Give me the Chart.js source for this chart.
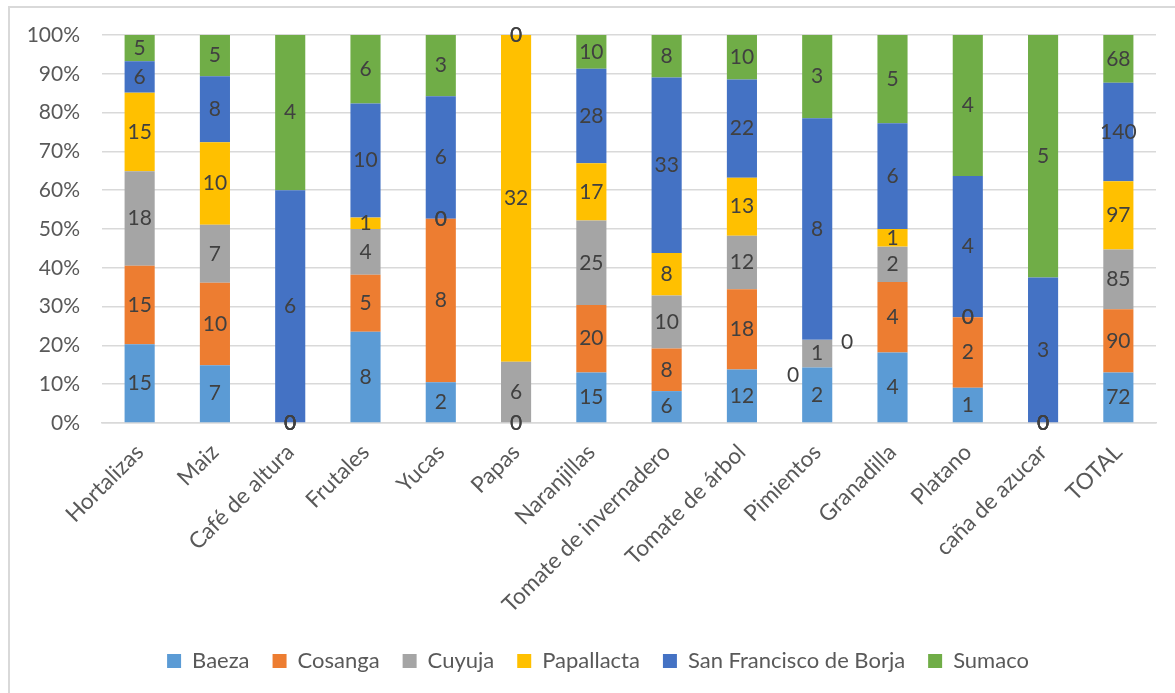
<!DOCTYPE html>
<html>
<head>
<meta charset="utf-8">
<script src="https://cdn.jsdelivr.net/npm/chart.js@4.4.1/dist/chart.umd.min.js"></script>
<style>
  html, body { margin: 0; padding: 0; background: #ffffff; }
  #wrap { position: relative; width: 1175px; height: 693px; overflow: hidden; }
  #frame { position: absolute; left: 8px; top: 6px; width: 1200px; height: 720px;
           border-left: 2px solid #d9d9d9; border-top: 2px solid #d9d9d9; }
  canvas { position: absolute; left: 0; top: 0; }
</style>
</head>
<body>
<div id="wrap">
  <div id="frame"></div>
  <canvas id="c" width="1175" height="693"></canvas>
</div>
<script>
const categories = ["Hortalizas", "Maiz", "Café de altura", "Frutales", "Yucas", "Papas",
  "Naranjillas", "Tomate de invernadero", "Tomate de árbol", "Pimientos", "Granadilla",
  "Platano", "caña de azucar", "TOTAL"];
const seriesNames = ["Baeza", "Cosanga", "Cuyuja", "Papallacta", "San Francisco de Borja", "Sumaco"];
const baeza        = [15, 7, 0, 8, 2, 0, 15, 6, 12, 2, 4, 1, 0, 72];
const cosanga      = [15, 10, 0, 5, 8, 0, 20, 8, 18, 0, 4, 2, 0, 90];
const cuyuja       = [18, 7, 0, 4, 0, 6, 25, 10, 12, 1, 2, 0, 0, 85];
const papallacta   = [15, 10, 0, 1, 0, 32, 17, 8, 13, 0, 1, 0, 0, 97];
const sanFrancisco = [6, 8, 6, 10, 6, 0, 28, 33, 22, 8, 6, 4, 3, 140];
const sumaco       = [5, 5, 4, 6, 3, 0, 10, 8, 10, 3, 5, 4, 5, 68];
const yTickValues  = [0, 10, 20, 30, 40, 50, 60, 70, 80, 90, 100];

const colors = ["#5B9BD5", "#ED7D31", "#A5A5A5", "#FFC000", "#4472C4", "#70AD47"];
const rawSeries = [baeza, cosanga, cuyuja, papallacta, sanFrancisco, sumaco];
const totals = categories.map((_, i) => rawSeries.reduce((s, arr) => s + arr[i], 0));

const FONT = "Lato";
const FS = 21;

const datasets = rawSeries.map((arr, k) => ({
  label: seriesNames[k],
  data: arr.map((v, i) => totals[i] ? v / totals[i] * 100 : 0),
  raw: arr,
  backgroundColor: colors[k],
  borderWidth: 0,
  categoryPercentage: 1.0,
  barPercentage: 0.4
}));

const labelPlugin = {
  id: 'segLabels',
  afterLayout(chart) {
    if (chart.legend) { chart.legend.left += 15; chart.legend.right += 15; }
  },
  afterDatasetsDraw(chart, args, opts) {
    const ctx = chart.ctx;
    ctx.save();
    ctx.font = FS + "px " + FONT;
    ctx.fillStyle = "#404040";
    ctx.textAlign = "center";
    ctx.textBaseline = "middle";
    chart.data.datasets.forEach((ds, k) => {
      const meta = chart.getDatasetMeta(k);
      meta.data.forEach((el, i) => {
        const off = (opts.offsets && opts.offsets[k + "-" + i]) || [0, 0];
        const y = (el.y + el.base) / 2;
        ctx.fillText(String(ds.raw[i]), el.x + off[0], y + off[1]);
      });
    });
    ctx.restore();
  }
};

new Chart(document.getElementById("c"), {
  type: "bar",
  data: { labels: categories, datasets },
  plugins: [labelPlugin],
  options: {
    responsive: false,
    animation: false,
    layout: { padding: { top: 35, left: 10, right: 19, bottom: 11 } },
    plugins: {
      tooltip: { enabled: false },
      legend: {
        position: "bottom",
        labels: {
          boxWidth: 14, boxHeight: 14, padding: 23,
          color: "#595959",
          font: { family: FONT, size: 22 }
        }
      },
      segLabels: { offsets: { "1-9": [-24, 8], "3-9": [30, 2] } }
    },
    scales: {
      x: {
        stacked: true,
        grid: { display: false, drawTicks: false },
        border: { display: true, color: "#d9d9d9", width: 1.5 },
        ticks: {
          autoSkip: false, maxRotation: 45, minRotation: 45, padding: 16,
          color: "#595959", font: { family: FONT, size: 22.5 }
        },
        afterFit(scale) { scale.height = 204; }
      },
      y: {
        stacked: true,
        min: 0, max: 100,
        afterBuildTicks(scale) { scale.ticks = yTickValues.map(v => ({ value: v })); },
        grid: { color: "#d9d9d9", lineWidth: 1.5, drawTicks: false },
        border: { display: false },
        ticks: {
          padding: 22, color: "#595959", font: { family: FONT, size: FS },
          callback: v => v + "%"
        },
        afterFit(scale) { scale.width = 92; }
      }
    }
  }
});
</script>
</body>
</html>
